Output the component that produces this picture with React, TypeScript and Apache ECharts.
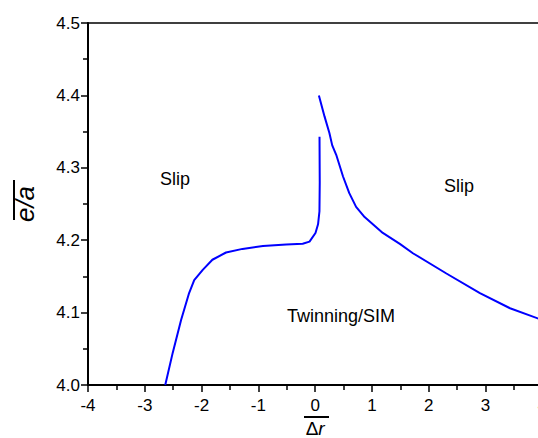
import React, { useEffect, useRef } from "react";
import * as echarts from "echarts";

// Left (lower) boundary: Twinning/SIM vs Slip
const leftX = [-2.64, -2.51, -2.36, -2.22, -2.13, -1.98, -1.81, -1.57, -1.28, -0.92, -0.51, -0.22, -0.1, 0.005, 0.05, 0.075, 0.08, 0.076];
const leftY = [4.0, 4.044, 4.09, 4.127, 4.145, 4.159, 4.173, 4.183, 4.188, 4.192, 4.194, 4.195, 4.198, 4.21, 4.222, 4.24, 4.28, 4.343];

// Right boundary
const rightX = [0.065, 0.164, 0.25, 0.3, 0.37, 0.49, 0.6, 0.72, 0.87, 1.19, 1.49, 1.72, 2.31, 2.9, 3.43, 3.92, 4.0];
const rightY = [4.4, 4.371, 4.348, 4.331, 4.318, 4.288, 4.265, 4.246, 4.232, 4.21, 4.195, 4.182, 4.154, 4.127, 4.106, 4.092, 4.089];

const xTicks = { min: -4, max: 4, interval: 1 };
const yTicks = { min: 4.0, max: 4.5, interval: 0.1 };

const annotations = [
  { text: "Slip", x: 175, y: 179 },
  { text: "Slip", x: 459, y: 186 },
  { text: "Twinning/SIM", x: 341, y: 316 },
];

const FONT = "Liberation Sans, Arial, Helvetica, sans-serif";

export default function App() {
  const ref = useRef<HTMLDivElement>(null);
  useEffect(() => {
    if (!ref.current) return;
    const chart = echarts.init(ref.current, undefined, { renderer: "svg" });
    const zip = (xs: number[], ys: number[]) => xs.map((x, i) => [x, ys[i]]);
    chart.setOption({
      animation: false,
      backgroundColor: "#ffffff",
      grid: { left: 88, right: -4.4, top: 23, bottom: 53, containLabel: false, outerBoundsMode: "none" },
      xAxis: [
        {
          type: "value",
          position: "bottom",
          min: xTicks.min,
          max: xTicks.max,
          interval: xTicks.interval,
          splitLine: { show: false },
          axisLine: { onZero: false, lineStyle: { color: "#000", width: 2 } },
          axisTick: { show: true, length: 7, lineStyle: { color: "#000", width: 1.5 } },
          minorTick: { show: true, splitNumber: 2, length: 5, lineStyle: { color: "#000", width: 1.5 } },
          axisLabel: { color: "#000", fontSize: 17, fontFamily: FONT, margin: 12 },
          name: "{d|Δ}{r|r}",
          nameLocation: "middle",
          nameGap: 34,
          nameTextStyle: {
            rich: {
              d: { fontSize: 19, fontFamily: FONT, color: "#000" },
              r: { fontSize: 19, fontFamily: FONT, fontStyle: "italic", color: "#000" },
            },
          },
        },
        {
          type: "value",
          position: "top",
          min: xTicks.min,
          max: xTicks.max,
          splitLine: { show: false },
          axisLine: { onZero: false, lineStyle: { color: "#000", width: 1.5 } },
          axisTick: { show: false },
          axisLabel: { show: false },
        },
      ],
      yAxis: {
        type: "value",
        min: yTicks.min,
        max: yTicks.max,
        interval: yTicks.interval,
        splitLine: { show: false },
        axisLine: { onZero: false, lineStyle: { color: "#000", width: 2 } },
        axisTick: { show: true, length: 7, lineStyle: { color: "#000", width: 1.5 } },
        minorTick: { show: true, splitNumber: 2, length: 5, lineStyle: { color: "#000", width: 1.5 } },
        axisLabel: {
          color: "#000",
          fontSize: 17,
          fontFamily: FONT,
          margin: 8,
          formatter: (v: number) => v.toFixed(1),
        },
        name: "e/a",
        nameLocation: "middle",
        nameGap: 50,
        nameRotate: 90,
        nameTextStyle: { fontSize: 26, fontFamily: FONT, fontStyle: "italic", color: "#000" },
      },
      series: [
        {
          type: "line",
          data: zip(leftX, leftY),
          showSymbol: false,
          smooth: false,
          lineStyle: { color: "#0000ff", width: 2 },
        },
        {
          type: "line",
          data: zip(rightX, rightY),
          showSymbol: false,
          smooth: false,
          lineStyle: { color: "#0000ff", width: 2 },
        },
      ],
      graphic: [
        ...annotations.map((a) => ({
          type: "text",
          x: a.x,
          y: a.y,
          style: {
            text: a.text,
            fill: "#000",
            font: `18px ${FONT}`,
            textAlign: "center",
            textVerticalAlign: "middle",
          },
        })),
        { type: "line", shape: { x1: 14, y1: 180, x2: 14, y2: 220 }, style: { stroke: "#000", lineWidth: 2 } },
        { type: "line", shape: { x1: 304, y1: 417, x2: 329, y2: 417 }, style: { stroke: "#000", lineWidth: 2 } },
      ],
    });
    return () => chart.dispose();
  }, []);
  return <div ref={ref} style={{ position: "fixed", left: 0, top: 0, width: 538, height: 438 }} />;
}
